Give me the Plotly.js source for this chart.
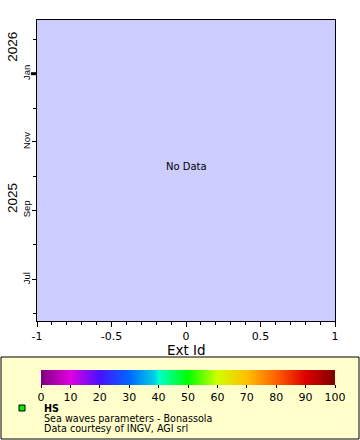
<!DOCTYPE html>
<html>
<head>
<meta charset="utf-8">
<script src="https://cdn.plot.ly/plotly-3.0.1.min.js"></script>
<style>
html,body{margin:0;padding:0;background:#fff;}
#chart{width:360px;height:440px;}
</style>
</head>
<body>
<div id="chart"></div>
<script>
// Series "HS" (empty: the reference shows "No Data")
const hsExtId = [];
const hsTime = [];
const hsValue = [];

// Axis ranges / ticks
const xRange = [-1, 1];
const xTickVals = [-1, -0.5, 0, 0.5, 1];
const xTickText = ['-1', '-0.5', '0', '0.5', '1'];
const xTitle = 'Ext Id';
const yRange = ['2025-05-25', '2026-02-18'];
const yearLabels = ['2025', '2026'];
const colorbarTicks = [0, 10, 20, 30, 40, 50, 60, 70, 80, 90, 100];
const colorRange = [0, 100];

// Legend texts
const seriesName = 'HS';
const seriesDesc = 'Sea waves parameters - Bonassola';
const seriesCredit = 'Data courtesy of INGV, AGI srl';
const noDataText = 'No Data';

const colorscale = [
  [0.0, '#800080'], [0.1, '#e000e0'], [0.2, '#4a10ff'], [0.3, '#0066ff'],
  [0.39, '#00d4e4'], [0.4, '#00ffcc'], [0.5, '#00ff00'], [0.6, '#d0ff00'],
  [0.7, '#ffc000'], [0.8, '#ff6000'], [0.9, '#dd0000'], [1.0, '#800000']
];

const W = 360, H = 440;
const M = {l: 37, r: 25, t: 20, b: 119};
const PW = W - M.l - M.r, PH = H - M.t - M.b;
const px = v => (v - M.l) / PW;       // pixel x -> paper x
const py = v => (H - M.b - v) / PH;   // pixel y -> paper y

// year label positions: middle of each year's visible part
function ms(d){ return new Date(d + 'T00:00:00Z').getTime(); }
function iso(t){ return new Date(t).toISOString().slice(0,10); }
const yearAnn = yearLabels.map(function(yr){
  const a = Math.max(ms(yRange[0]), ms(yr + '-01-01'));
  const b = Math.min(ms(yRange[1]), ms((+yr + 1) + '-01-01'));
  return {
    text: yr, xref: 'paper', yref: 'y', x: px(13), y: iso((a + b) / 2),
    showarrow: false, textangle: -90, xanchor: 'center', yanchor: 'middle',
    font: {family: 'Liberation Sans, Arial, sans-serif', size: 13.5, color: '#000'}
  };
});

// an empty series still needs one (blank) entry so Plotly draws its colour bar
const pad = a => (a.length ? a : [null]);

const trace = {
  type: 'scatter', mode: 'markers', name: seriesName,
  x: pad(hsExtId), y: pad(hsTime), showlegend: false, hoverinfo: 'skip',
  marker: {
    color: pad(hsValue), colorscale: colorscale, cmin: colorRange[0], cmax: colorRange[1],
    showscale: true, size: 6,
    colorbar: {
      orientation: 'h', xref: 'paper', yref: 'paper',
      x: px(41), xanchor: 'left', y: py(370), yanchor: 'top',
      len: 294, lenmode: 'pixels', thickness: 15, thicknessmode: 'pixels',
      xpad: 0, ypad: 0, outlinewidth: 0, borderwidth: 0,
      tickmode: 'array', tickvals: colorbarTicks,
      ticks: 'outside', ticklen: 3, tickcolor: '#000', tickwidth: 1,
      tickfont: {family: 'DejaVu Sans', size: 11, color: '#000'}
    }
  }
};

const layout = {
  width: W, height: H, margin: M,
  paper_bgcolor: '#ffffff', plot_bgcolor: '#ccccff',
  showlegend: false,
  font: {family: 'DejaVu Sans', color: '#000'},
  xaxis: {
    range: xRange, tickmode: 'array', tickvals: xTickVals, ticktext: xTickText,
    showgrid: false, zeroline: false,
    showline: true, linecolor: '#000', linewidth: 1, mirror: true,
    ticks: 'outside', ticklen: 5, tickcolor: '#000',
    minor: {dtick: 0.1, tick0: 0, ticks: 'outside', ticklen: 3, tickcolor: '#000', showgrid: false},
    tickfont: {family: 'DejaVu Sans', size: 11, color: '#000'}
  },
  yaxis: {
    type: 'date', range: yRange, showgrid: false, zeroline: false,
    showline: true, linecolor: '#000', linewidth: 1, mirror: true,
    tick0: '2025-01-01', dtick: 'M2', tickformat: '%b', tickangle: -90,
    ticks: 'outside', ticklen: 4, tickcolor: '#000',
    minor: {dtick: 'M1', ticks: 'outside', ticklen: 3, tickcolor: '#000', showgrid: false},
    tickfont: {family: 'Liberation Sans Narrow, Arial Narrow, Liberation Sans, sans-serif', size: 9.5, color: '#000'},
    ticklabelstandoff: -2
  },
  shapes: [
    {type: 'line', xref: 'paper', yref: 'y', x0: px(31), x1: px(37),
     y0: '2026-01-01', y1: '2026-01-01', line: {color: '#000', width: 3}},
    {type: 'rect', xref: 'paper', yref: 'paper', x0: px(1), x1: px(359), y0: py(357), y1: py(439),
     fillcolor: '#ffffcc', line: {color: '#000', width: 1}, layer: 'below'},
    {type: 'rect', xref: 'paper', yref: 'paper', x0: px(19), x1: px(25), y0: py(405), y1: py(411),
     fillcolor: '#00ee00', line: {color: '#000', width: 1}}
  ],
  annotations: yearAnn.concat([
    {text: xTitle, xref: 'paper', yref: 'paper', x: 0.5, y: py(349.5), yanchor: 'middle', showarrow: false,
     borderpad: 0, font: {family: 'DejaVu Sans', size: 13.5, color: '#000'}},
    {text: noDataText, xref: 'paper', yref: 'paper', x: 0.5, y: 0.5 + 4 / PH, showarrow: false,
     font: {family: 'DejaVu Sans', size: 10, color: '#000'}},
    {text: '<b>' + seriesName + '</b>', xref: 'paper', yref: 'paper', x: px(42), y: py(408),
     xanchor: 'left', yanchor: 'middle', showarrow: false,
     font: {family: 'DejaVu Sans', size: 9.6, color: '#000'}},
    {text: seriesDesc, xref: 'paper', yref: 'paper', x: px(42), y: py(418),
     xanchor: 'left', yanchor: 'middle', showarrow: false,
     font: {family: 'DejaVu Sans', size: 9.6, color: '#000'}},
    {text: seriesCredit, xref: 'paper', yref: 'paper', x: px(42), y: py(428),
     xanchor: 'left', yanchor: 'middle', showarrow: false,
     font: {family: 'DejaVu Sans', size: 9.6, color: '#000'}}
  ])
};

Plotly.newPlot('chart', [trace], layout, {displayModeBar: false, staticPlot: true});
</script>
</body>
</html>
